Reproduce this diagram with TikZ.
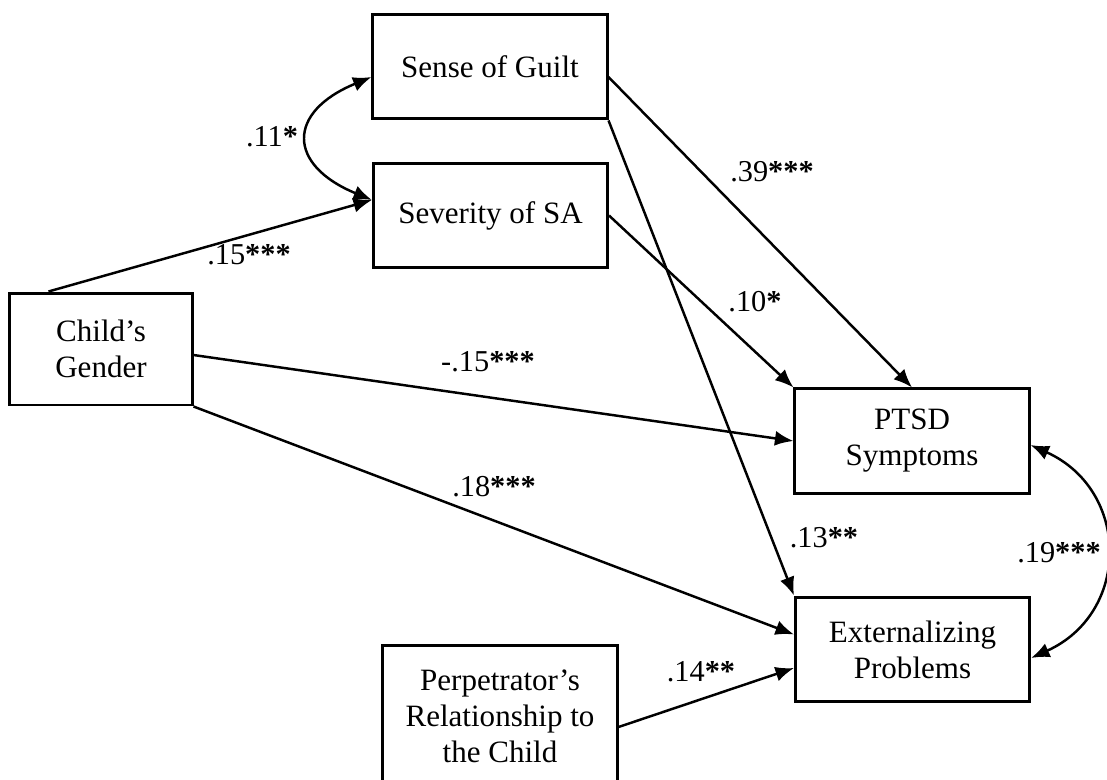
\documentclass[tikz,border=0pt]{standalone}
\usepackage{fontspec}
\setmainfont{Liberation Serif}
\usetikzlibrary{calc, arrows.meta}

\tikzset{
    var/.style={draw, line width=1.7pt, minimum width=132.7pt, minimum height=59.5pt,
        align=center, inner sep=2pt, font=\fontsize{17.6}{20.4}\selectfont},
    conn/.style={line width=1.4pt, -{Latex[length=10.5pt, width=8.5pt]}},
    twoway/.style={line width=1.4pt, {Latex[length=10.5pt, width=8.5pt]}-{Latex[length=10.5pt, width=8.5pt]}},
    coef/.style={inner sep=0pt, font=\fontsize{17.2}{20}\selectfont}
}

\begin{document}
\begin{tikzpicture}[x=0.567pt, y=-0.567pt]
    \useasboundingbox (0, 0) rectangle (1107, 780);

    \node[var] (guilt) at (490, 66.5) {Sense of Guilt};
    \node[var] (sev) at (490.5, 215.5) {Severity of SA};
    \node[var, minimum width=103.2pt, minimum height=63.5pt] (gender) at (101, 349) {Child’s\\Gender};
    \node[var, minimum height=59pt] (ptsd) at (912, 441) {PTSD\\Symptoms};
    \node[var] (ext) at (912.5, 649.5) {Externalizing\\Problems};
    \node[var, minimum height=79.4pt] (perp) at (500, 716) {Perpetrator’s\\Relationship to\\the Child};

    \draw[conn] ($(gender.north west)+(40, 0)$) -- ($(sev.west)+(0, -15.5)$);
    \draw[twoway] ($(guilt.west)+(0, 10.5)$) .. controls +(-85, 35) and +(-85, -35) .. ($(sev.west)+(0, -15.5)$);
    \draw[conn] ($(guilt.east)+(0, 10.5)$) -- (ptsd.north);
    \draw[conn] (guilt.south east) -- (ext.north west);
    \draw[conn] (sev.east) -- (ptsd.north west);
    \draw[conn] ($(gender.east)+(0, 6)$) -- (ptsd.west);
    \draw[conn] (gender.south east) -- ($(ext.west)+(0, -15)$);
    \draw[conn] ($(perp.east)+(0, 11)$) -- ($(ext.west)+(0, 18.5)$);
    \draw[twoway] ($(ptsd.east)+(0, 4)$) .. controls +(100, 45) and +(100, -45) .. ($(ext.east)+(0, 8.5)$);

    \node[coef] (c11) at (272, 137) {.11{\bfseries *}};
    \node[coef] (c15) at (249, 255) {.15{\bfseries ***}};
    \node[coef] (c39) at (772, 172) {.39{\bfseries ***}};
    \node[coef] (c10) at (755, 302) {.10{\bfseries *}};
    \node[coef] (cneg) at (488, 362) {-.15{\bfseries ***}};
    \node[coef] (c18) at (494, 487) {.18{\bfseries ***}};
    \node[coef] (c13) at (824, 538) {.13{\bfseries **}};
    \node[coef] (c19) at (1059, 553) {.19{\bfseries ***}};
    \node[coef] (c14) at (701, 672) {.14{\bfseries **}};
\end{tikzpicture}
\end{document}
